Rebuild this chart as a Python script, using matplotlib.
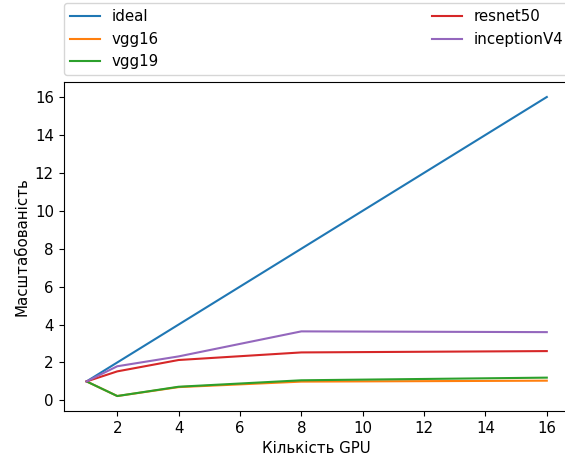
import matplotlib
matplotlib.use("Agg")
import matplotlib.pyplot as plt

# scaling results per GPU count
gpus = [1, 2, 4, 8, 16]
ideal = [1, 2, 4, 8, 16]
vgg16 = [1, 0.23, 0.7, 0.99, 1.04]
vgg19 = [1, 0.23, 0.72, 1.06, 1.2]
resnet50 = [1, 1.53, 2.13, 2.53, 2.6]
inceptionV4 = [1, 1.8, 2.32, 3.64, 3.6]

plt.rcParams["font.size"] = 10.8

fig = plt.figure(figsize=(5.65, 4.61), dpi=100)
# axes run a little past the right edge, like the cropped original
ax = fig.add_axes([0.1125, 0.1085, 0.896, 0.7135])

ax.plot(gpus, ideal, label="ideal")
ax.plot(gpus, vgg16, label="vgg16")
ax.plot(gpus, vgg19, label="vgg19")
ax.plot(gpus, resnet50, label="resnet50")
ax.plot(gpus, inceptionV4, label="inceptionV4")

ax.set_xticks([2, 4, 6, 8, 10, 12, 14, 16])
ax.set_yticks([0, 2, 4, 6, 8, 10, 12, 14, 16])
ax.set_xlabel("Кількість GPU")
ax.set_ylabel("Масштабованість")

ax.legend(bbox_to_anchor=(0., 1.02, 1., .102), loc="lower left",
          ncol=2, mode="expand", borderaxespad=0.)

fig.savefig("out.png", dpi=100)
